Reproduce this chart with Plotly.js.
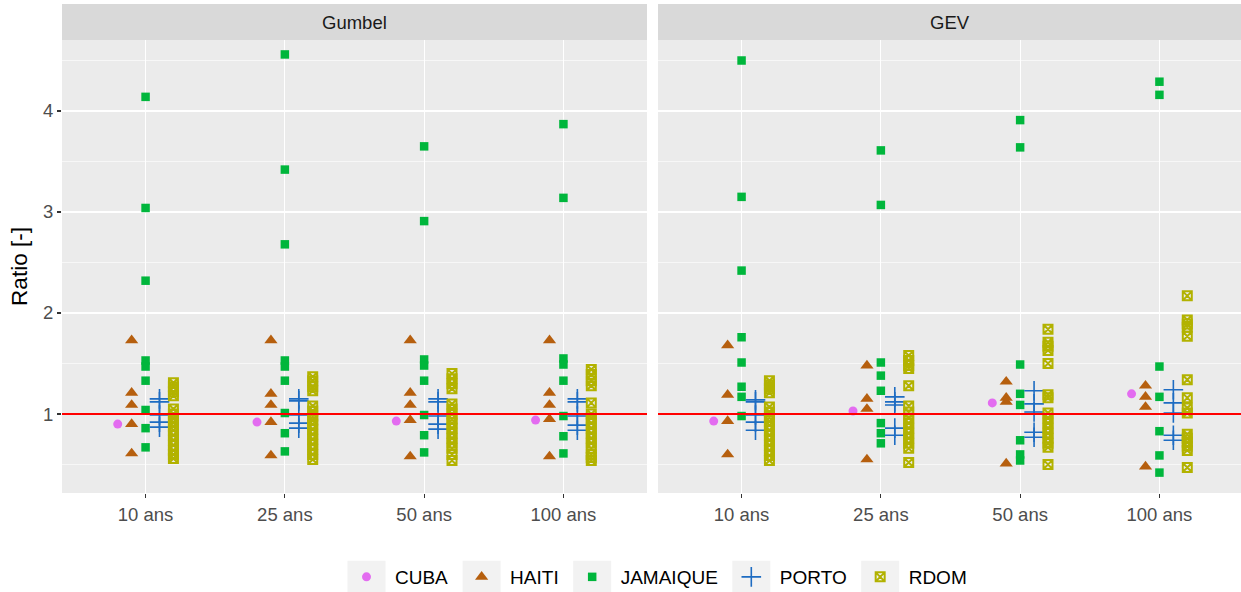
<!DOCTYPE html>
<html>
<head>
<meta charset="utf-8">
<script src="https://cdn.plot.ly/plotly-3.0.1.min.js"></script>
<style>html,body{margin:0;padding:0;background:#fff;}#chart{width:1241px;height:592px;}</style>
</head>
<body>
<div id="chart"></div>
<script>
// ---- data ----
const categories = ['10 ans', '25 ans', '50 ans', '100 ans'];
const countries = ['CUBA', 'HAITI', 'JAMAIQUE', 'PORTO', 'RDOM'];
const panels = ['Gumbel', 'GEV'];

// Gumbel: one list of ratios per return period
const gumbel_CUBA = [[0.90], [0.92], [0.93], [0.94]];
const gumbel_HAITI = [
  [1.73, 1.21, 1.09, 0.90, 0.61],
  [1.73, 1.20, 1.09, 0.92, 0.59],
  [1.73, 1.21, 1.09, 0.94, 0.58],
  [1.73, 1.21, 1.09, 0.95, 0.58]
];
const gumbel_JAMAIQUE = [
  [4.14, 3.04, 2.32, 1.53, 1.47, 1.33, 1.04, 0.86, 0.67],
  [4.56, 3.42, 2.68, 1.53, 1.47, 1.33, 1.01, 0.81, 0.63],
  [3.65, 2.91, 1.54, 1.48, 1.33, 0.99, 0.79, 0.62],
  [3.87, 3.14, 1.55, 1.49, 1.33, 0.98, 0.78, 0.61]
];
const gumbel_PORTO = [
  [1.15, 1.12, 0.99, 0.92, 0.87],
  [1.15, 1.13, 0.99, 0.91, 0.86],
  [1.15, 1.12, 0.98, 0.90, 0.85],
  [1.15, 1.12, 0.98, 0.89, 0.84]
];
const gumbel_RDOM = [
  [1.31, 1.27, 1.22, 1.18, 1.05, 1.00, 0.96, 0.92, 0.88, 0.84, 0.79, 0.74, 0.69, 0.64, 0.60, 0.56],
  [1.37, 1.33, 1.27, 1.23, 1.08, 1.03, 0.98, 0.94, 0.90, 0.85, 0.80, 0.75, 0.70, 0.65, 0.60, 0.55],
  [1.40, 1.35, 1.30, 1.25, 1.10, 1.05, 1.00, 0.95, 0.91, 0.86, 0.81, 0.76, 0.71, 0.66, 0.60, 0.54],
  [1.44, 1.39, 1.33, 1.28, 1.11, 1.00, 0.96, 0.91, 0.86, 0.81, 0.76, 0.71, 0.66, 0.60, 0.57, 0.54]
];

// GEV
const gev_CUBA = [[0.93], [1.03], [1.11], [1.20]];
const gev_HAITI = [
  [1.68, 1.19, 0.93, 0.60],
  [1.48, 1.15, 1.05, 0.55],
  [1.32, 1.16, 1.12, 0.51],
  [1.28, 1.17, 1.07, 0.48]
];
const gev_JAMAIQUE = [
  [4.50, 3.15, 2.42, 1.76, 1.51, 1.27, 1.17, 0.98],
  [3.61, 3.07, 1.51, 1.38, 1.23, 0.91, 0.81, 0.71],
  [3.91, 3.64, 1.49, 1.20, 1.09, 0.74, 0.60, 0.54],
  [4.29, 4.16, 1.47, 1.17, 0.83, 0.59, 0.42]
];
const gev_PORTO = [
  [1.14, 1.12, 0.99, 0.92, 0.84],
  [1.17, 1.12, 1.09, 0.86, 0.79],
  [1.23, 1.10, 1.02, 0.82, 0.77],
  [1.24, 1.11, 1.01, 0.79, 0.74]
];
const gev_RDOM = [
  [1.33, 1.29, 1.25, 1.21, 1.07, 1.02, 0.97, 0.93, 0.89, 0.84, 0.79, 0.74, 0.69, 0.64, 0.59, 0.54],
  [1.58, 1.53, 1.48, 1.45, 1.28, 1.08, 1.02, 0.96, 0.91, 0.86, 0.81, 0.76, 0.71, 0.66, 0.52],
  [1.84, 1.71, 1.67, 1.63, 1.50, 1.19, 1.16, 1.01, 0.96, 0.91, 0.86, 0.81, 0.76, 0.71, 0.67, 0.50],
  [2.17, 1.93, 1.89, 1.86, 1.77, 1.34, 1.16, 1.06, 1.01, 0.80, 0.76, 0.72, 0.68, 0.64, 0.47]
];

const panelData = {
  Gumbel: [gumbel_CUBA, gumbel_HAITI, gumbel_JAMAIQUE, gumbel_PORTO, gumbel_RDOM],
  GEV: [gev_CUBA, gev_HAITI, gev_JAMAIQUE, gev_PORTO, gev_RDOM]
};

// ---- styles ----
const dodge = [-0.2, -0.1, 0, 0.1, 0.2];
const markerStyles = [
  {symbol: 'circle', size: 9, color: '#E36CF0'},
  {symbol: 'triangle-up', size: 11.5, color: '#B65F0E'},
  {symbol: 'square', size: 8.5, color: '#00B63C'},
  {symbol: 'cross-thin-open', size: 14, color: '#1E6CC2', line: {width: 1.6, color: '#1E6CC2'}},
  {symbol: 'square-x-open', size: 9, color: '#B2B200', line: {width: 2, color: '#B2B200'}}
];

const traces = [];
panels.forEach((p, pi) => {
  const axSuffix = pi === 0 ? '' : '2';
  panelData[p].forEach((series, ci) => {
    const xs = [], ys = [];
    series.forEach((vals, ki) => {
      vals.forEach(v => { xs.push(ki + 1 + dodge[ci]); ys.push(v); });
    });
    traces.push({
      type: 'scatter', mode: 'markers',
      x: xs, y: ys,
      xaxis: 'x' + axSuffix, yaxis: 'y' + axSuffix,
      name: countries[ci], legendgroup: countries[ci],
      showlegend: pi === 0,
      marker: markerStyles[ci],
      hoverinfo: 'x+y+name'
    });
  });
});

const W = 1241, H = 592;
const L = 62, R = 0, T = 40, B = 99;
const plotW = W - L - R, plotH = H - T - B;
const leftEnd = (647 - L) / plotW;
const rightStart = (658 - L) / plotW;
const stripH = 36 / plotH;
const pxPerUnit = (plotW * leftEnd) / 4.2;
const rightSpan = (plotW * (1 - rightStart)) / pxPerUnit;

const fontFam = '"Liberation Sans", Arial, Helvetica, sans-serif';
const xBase = {
  tickvals: [1, 2, 3, 4], ticktext: categories,
  showgrid: true, gridcolor: '#FFFFFF', gridwidth: 1.2,
  zeroline: false, showline: false,
  ticks: 'outside', ticklen: 4, tickwidth: 1.1, tickcolor: '#333333',
  tickfont: {size: 18.5, color: '#4D4D4D', family: fontFam},
  ticklabelstandoff: 1,
  fixedrange: true
};
const yBase = {
  range: [0.218, 4.703],
  tickvals: [1, 2, 3, 4],
  showgrid: true, gridcolor: '#FFFFFF', gridwidth: 1.2,
  minor: {tickvals: [0.5, 1.5, 2.5, 3.5, 4.5], showgrid: true, gridcolor: '#FFFFFF', gridwidth: 0.6, ticks: ''},
  zeroline: false, showline: false,
  ticks: 'outside', ticklen: 4, tickwidth: 1.1, tickcolor: '#333333',
  tickfont: {size: 18.5, color: '#4D4D4D', family: fontFam},
  fixedrange: true
};

const shapes = [];
const annotations = [];
panels.forEach((p, pi) => {
  const xr = pi === 0 ? 'x domain' : 'x2 domain';
  shapes.push({type: 'rect', xref: xr, yref: 'paper', x0: 0, x1: 1, y0: 1, y1: 1 + stripH,
    fillcolor: '#D9D9D9', line: {width: 0}, layer: 'below'});
  annotations.push({text: p, xref: xr, yref: 'paper', x: 0.5, y: 1 + stripH / 2,
    showarrow: false, xanchor: 'center', yanchor: 'middle',
    font: {size: 18.5, color: '#1A1A1A', family: fontFam}});
  shapes.push({type: 'line', xref: xr, yref: pi === 0 ? 'y' : 'y2', x0: 0, x1: 1, y0: 1, y1: 1,
    line: {color: '#FF0000', width: 2}, layer: 'above'});
});

const layout = {
  width: W, height: H,
  margin: {l: L, r: R, t: T, b: B, pad: 0, autoexpand: false},
  paper_bgcolor: '#FFFFFF', plot_bgcolor: '#EBEBEB',
  font: {family: fontFam, color: '#1A1A1A'},
  xaxis: Object.assign({}, xBase, {domain: [0, leftEnd], range: [0.4, 4.6], anchor: 'y'}),
  xaxis2: Object.assign({}, xBase, {domain: [rightStart, 1], range: [0.4, 0.4 + rightSpan], anchor: 'y2'}),
  yaxis: Object.assign({}, yBase, {anchor: 'x', title: {text: 'Ratio [-]', font: {size: 22.5, color: '#000000', family: fontFam}, standoff: 9}}),
  yaxis2: Object.assign({}, yBase, {anchor: 'x2', matches: 'y', showticklabels: false, ticks: ''}),
  showlegend: true,
  legend: {
    orientation: 'h', x: (655 - L) / plotW, xanchor: 'center',
    y: (T + plotH - 577) / plotH, yanchor: 'middle',
    font: {size: 19, color: '#000000', family: fontFam},
    itemwidth: 47, bgcolor: 'rgba(0,0,0,0)', traceorder: 'normal'
  },
  shapes: shapes,
  annotations: annotations
};

const gd = document.getElementById('chart');
Plotly.newPlot(gd, traces, layout, {displayModeBar: false, staticPlot: true}).then(() => {
  // grey key backgrounds behind the legend symbols (ggplot legend keys)
  const gRect = gd.getBoundingClientRect();
  const keyShapes = [];
  gd.querySelectorAll('.legend .traces').forEach(tr => {
    const pt = tr.querySelector('.legendpoints path.scatterpts') || tr.querySelector('.legendpoints path');
    const tx = tr.querySelector('text.legendtext');
    if (!pt) return;
    const r = pt.getBoundingClientRect();
    const cx = r.left + r.width / 2 - gRect.left;
    let cy = r.top + r.height / 2 - gRect.top;
    if (tx) { const t = tx.getBoundingClientRect(); cy = t.top + t.height / 2 - gRect.top; }
    const hw = 19, hh = 17;
    keyShapes.push({type: 'rect', xref: 'paper', yref: 'paper',
      x0: (cx - hw - L) / plotW, x1: (cx + hw - L) / plotW,
      y0: (T + plotH - (cy + hh)) / plotH, y1: (T + plotH - (cy - hh)) / plotH,
      fillcolor: '#F2F2F2', line: {width: 0}, layer: 'below'});
  });
  return Plotly.relayout(gd, {shapes: shapes.concat(keyShapes)});
});
</script>
</body>
</html>
